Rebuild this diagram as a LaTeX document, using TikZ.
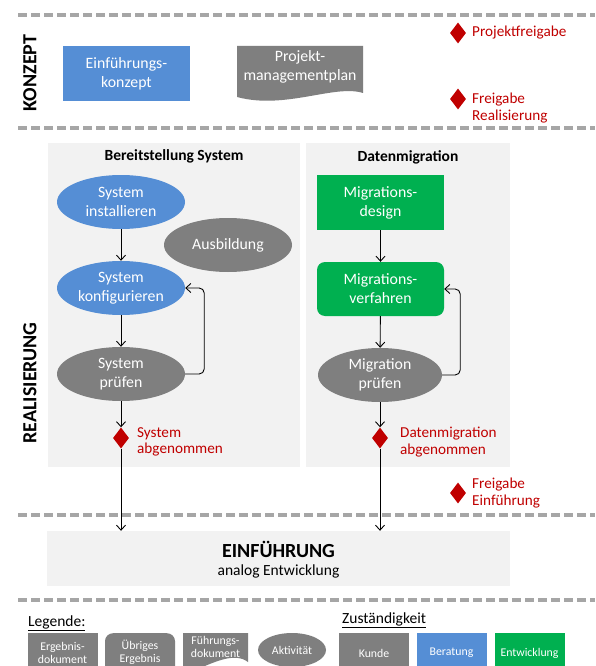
\documentclass[tikz,border=0pt]{standalone}
\usepackage{fontspec}
\setmainfont{Carlito}
\usetikzlibrary{shapes.geometric,arrows.meta}
\definecolor{dashgray}{HTML}{A6A6A6}
\definecolor{panel}{HTML}{F2F2F2}
\definecolor{ngray}{HTML}{7F7F7F}
\definecolor{nblue}{HTML}{558ED5}
\definecolor{ngreen}{HTML}{00B050}
\definecolor{mred}{HTML}{C00000}
\begin{document}
\begin{tikzpicture}[x=1pt,y=-1pt,
  sepline/.style={dashgray, line width=4pt, dash pattern=on 9pt off 4pt},
  nodetext/.style={text=white, font=\fontsize{15.8}{19}\selectfont, align=center},
  act/.style={ellipse, fill=ngray, minimum width=128pt, minimum height=54pt, inner sep=0pt, nodetext},
  box/.style={rectangle, minimum width=127pt, minimum height=55pt, inner sep=0pt, nodetext},
  arr/.style={-{Straight Barb[length=5pt,width=9pt]}, line width=0.9pt},
  ms/.style={diamond, fill=mred, minimum width=16pt, minimum height=21pt, inner sep=0pt},
  mlabel/.style={text=mred, font=\fontsize{15.2}{16.5}\selectfont, align=left, anchor=west, inner sep=0pt},
  phase/.style={font=\fontsize{20}{24}\selectfont\bfseries, rotate=90, inner sep=0pt},
  panelbox/.style={fill=panel, inner sep=0pt},
  head/.style={font=\fontsize{15.5}{18}\selectfont\bfseries, inner sep=0pt},
  leg/.style={minimum width=70pt, minimum height=40pt, inner sep=0pt, text=white, font=\fontsize{11.8}{13}\selectfont, align=center, anchor=north},
  legtext/.style={text=white, font=\fontsize{11.8}{13}\selectfont, align=center, inner sep=0pt},
  legtitle/.style={font=\fontsize{15.5}{18}\selectfont, anchor=west, inner sep=0pt}
]
\clip (0,0) rectangle (595,666);
\fill[white] (0,0) rectangle (595,666);

% separators
\draw[sepline] (18,15) -- (595,15);
\draw[sepline] (18,128) -- (595,128);
\draw[sepline] (18,515) -- (595,515);
\draw[sepline] (18,600) -- (595,600);

% phase labels
\node[phase] (konzept) at (30,73) {KONZEPT};
\node[phase] (real) at (30,383) {REALISIERUNG};

% Konzept
\node[box, fill=nblue] (ek) at (126.5,73.5) {Einführungs-\\konzept};
\fill[ngray] (237,46) -- (363,46) -- (363,93) .. controls (335,84) and (285,110) .. (237,97) -- cycle;
\node[nodetext, inner sep=0pt] (pmp) at (300,67) {Projekt-\\managementplan};

\node[ms] (d3) at (458,33) {};
\node[mlabel] (l3) at (472,33) {Projektfreigabe};
\node[ms] (d4) at (458,99) {};
\node[mlabel] (l4) at (472,108) {Freigabe\\Realisierung};

% panels
\node[panelbox, minimum width=252pt, minimum height=324pt] (pl) at (174,305) {};
\node[panelbox, minimum width=204pt, minimum height=324pt] (pr) at (408,305) {};
\node[head] (hl) at (174,156) {Bereitstellung System};
\node[head] (hr) at (408,157) {Datenmigration};

% left column
\node[act, fill=nblue] (si) at (121,202) {System\\installieren};
\node[act] (au) at (228,245) {Ausbildung};
\node[act, fill=nblue] (sk) at (121,288) {System\\konfigurieren};
\node[act] (sp) at (121,374) {System\\prüfen};
\node[ms] (d1) at (121,438) {};
\node[mlabel] (l1) at (137,442) {System\\abgenommen};

% right column
\node[box, fill=ngreen] (md) at (380.5,202.5) {Migrations-\\design};
\node[box, fill=ngreen, rounded corners=8pt, minimum height=54pt] (mv) at (380.5,289) {Migrations-\\verfahren};
\node[act, minimum width=124pt] (mp) at (380,375) {Migration\\prüfen};
\node[ms] (d2) at (380,438) {};
\node[mlabel] (l2) at (400,442) {Datenmigration\\abgenommen};

\node[ms] (d5) at (458,493) {};
\node[mlabel] (l5) at (472,493) {Freigabe\\Einführung};

% Einfuehrung
\node[panelbox, minimum width=463pt, minimum height=55pt] (ein) at (278.5,558.5) {};
\node[font=\fontsize{20}{24}\selectfont\bfseries, inner sep=0pt] (eint) at (278.5,549) {EINFÜHRUNG};
\node[font=\fontsize{15.5}{18}\selectfont, inner sep=0pt] (eins) at (278.5,571) {analog Entwicklung};

% arrows
\draw[arr] (si) -- (sk);
\draw[arr] (sk) -- (sp);
\draw[arr] (sp) -- (d1);
\draw[arr] (d1) -- (d1 |- ein.north);
\draw[arr, rounded corners=5pt] (sp.east) -- ++(19,0) |- (sk.east);
\draw[arr] (md) -- (mv);
\draw[arr] (mv) -- (mp);
\draw[arr] (mp) -- (d2);
\draw[arr] (d2) -- (d2 |- ein.north);
\draw[arr, rounded corners=5pt] (mp.east) -- ++(18,0) |- (mv.east);

% legend
\node[legtitle] (lg) at (28,623) {\underline{Legende:}};
\node[legtitle] (zs) at (342,620) {\underline{Zuständigkeit}};
\node[leg, fill=ngray] (e1) at (62.5,633) {Ergebnis-\\dokument};
\node[leg, fill=ngray, rounded corners=8pt, minimum height=45pt] (e2) at (140,633) {};
\node[legtext] (e2t) at (140,652) {Übriges\\Ergebnis};
\fill[ngray] (183,633) -- (248,633) -- (248,662) .. controls (235,652) and (215,662) .. (200,668) -- (183,672) -- cycle;
\node[legtext] (e3) at (215.5,647) {Führungs-\\dokument};
\node[ellipse, fill=ngray, minimum width=68pt, minimum height=34pt, inner sep=0pt, legtext] (e4) at (292,650) {Aktivität};
\node[leg, fill=ngray] (k1) at (374,633) {Kunde};
\node[leg, fill=nblue] (k2) at (451.5,633) {Beratung};
\node[leg, fill=ngreen] (k3) at (529.5,633) {Entwicklung};
\end{tikzpicture}
\end{document}
